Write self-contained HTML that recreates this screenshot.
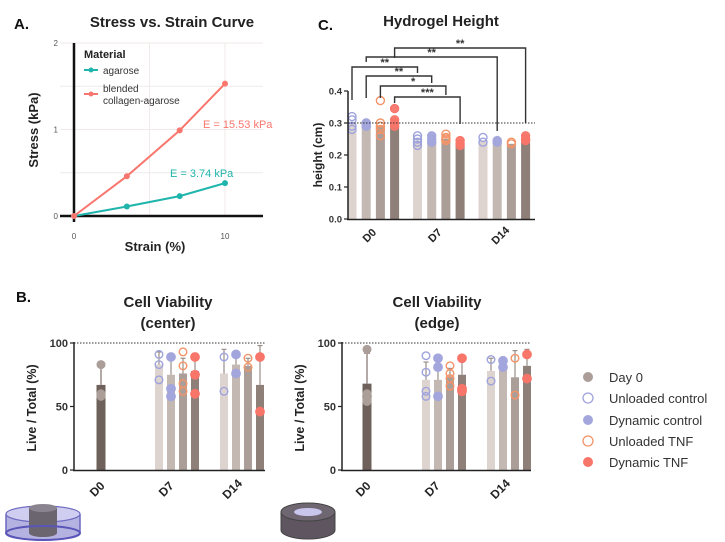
<!DOCTYPE html>
<html><head><meta charset="utf-8"><style>
html,body{margin:0;padding:0;background:#fff;}
svg{display:block;font-family:"Liberation Sans",sans-serif;}
</style></head><body>
<svg id="fig" width="725" height="542" viewBox="0 0 725 542">
  <text x="14" y="29" font-size="15" font-weight="bold" fill="#111">A.</text>
  <text x="172" y="27" font-size="15" font-weight="bold" text-anchor="middle" fill="#222">Stress vs. Strain Curve</text>
  <text x="318" y="30" font-size="15" font-weight="bold" fill="#111">C.</text>
  <text x="441" y="26" font-size="15" font-weight="bold" text-anchor="middle" fill="#222">Hydrogel Height</text>
  <text x="16" y="302" font-size="15" font-weight="bold" fill="#111">B.</text>
  <text x="168" y="307" font-size="15" font-weight="bold" text-anchor="middle" fill="#222">Cell Viability</text>
  <text x="168" y="328" font-size="15" font-weight="bold" text-anchor="middle" fill="#222">(center)</text>
  <text x="437" y="307" font-size="15" font-weight="bold" text-anchor="middle" fill="#222">Cell Viability</text>
  <text x="437" y="328" font-size="15" font-weight="bold" text-anchor="middle" fill="#222">(edge)</text>

  <g id="pa"></g><g id="pc"></g><g id="pb1"></g><g id="pb2"></g>

  <g>
    <path d="M6 514 L6 532 A37 8 0 0 0 80 532 L80 514" fill="#b4b2e0" stroke="#6c68c0" stroke-width="1.5"/>
    <ellipse cx="43" cy="514" rx="37" ry="8" fill="#cfcdf0" stroke="#6c68c0" stroke-width="1.2"/>
    <path d="M29 508 L29 533 A14 4 0 0 0 57 533 L57 508" fill="#6b6570"/>
    <ellipse cx="43" cy="508" rx="14" ry="4" fill="#8a8490"/>
    <ellipse cx="43" cy="533" rx="37" ry="7" fill="none" stroke="#5a55b8" stroke-width="2"/>
  </g>
  <g>
    <path d="M281 512 L281 530 A27 9 0 0 0 335 530 L335 512" fill="#5e5560" stroke="#444" stroke-width="1"/>
    <ellipse cx="308" cy="512" rx="27" ry="9" fill="#6e6670" stroke="#444"/>
    <ellipse cx="308" cy="512" rx="14" ry="4" fill="#c9c6ee"/>
  </g>

  <g>
    <circle cx="588" cy="377" r="5" fill="#ab9d98"/>
    <text x="609" y="382" font-size="13" fill="#333">Day 0</text>
    <circle cx="588" cy="398" r="5" fill="none" stroke="#9fa3dc" stroke-width="1.3"/>
    <text x="609" y="403" font-size="13" fill="#333">Unloaded control</text>
    <circle cx="588" cy="420" r="5" fill="#a3a6dc"/>
    <text x="609" y="425" font-size="13" fill="#333">Dynamic control</text>
    <circle cx="588" cy="441" r="5" fill="none" stroke="#f29468" stroke-width="1.3"/>
    <text x="609" y="446" font-size="13" fill="#333">Unloaded TNF</text>
    <circle cx="588" cy="462" r="5" fill="#f8756a"/>
    <text x="609" y="467" font-size="13" fill="#333">Dynamic TNF</text>
  </g>
</svg>
<script>
const NS="http://www.w3.org/2000/svg";
function mk(parent,tag,attrs,txt){const e=document.createElementNS(NS,tag);for(const k in attrs)e.setAttribute(k,attrs[k]);if(txt!==undefined)e.textContent=txt;parent.appendChild(e);return e;}

const strainX=[0,3.5,7,10];
const agaroseY=[0,0.11,0.23,0.38];
const blendedY=[0,0.46,0.99,1.53];
const aXTicks=[0,10];
const aYTicks=[0,1,2];

const hDays=["D0","D7","D14"];
const hBarMeans=[[0.30,0.295,0.29,0.30],[0.245,0.245,0.25,0.23],[0.245,0.24,0.235,0.24]];
const hUC=[[0.32,0.31,0.29,0.28],[0.26,0.25,0.24,0.23],[0.255,0.24]];
const hDC=[[0.30,0.29,0.30,0.29],[0.26,0.25,0.24],[0.245,0.24]];
const hUT=[[0.37,0.30,0.28,0.26,0.29],[0.265,0.255,0.25,0.245],[0.24,0.235]];
const hDT=[[0.345,0.31,0.30,0.29],[0.245,0.235,0.23],[0.26,0.25,0.245]];
const hYTicks=["0.0","0.1","0.2","0.3","0.4"];
const sigLabels=["**","**","**","**","*","***"];

const vDays=["D0","D7","D14"];
const vCenterDay0=67, vCenterDay0Pts=[83,60,58], vCenterDay0Sd=15;
const vCenterMeans=[[83,75,76,78],[76,83,82,67]];
const vCenterSd=[[10,12,12,14],[19,8,6,31]];
const vCenterUC=[[91,83,71],[89,62]];
const vCenterDC=[[89,64,58],[91,76]];
const vCenterUT=[[93,82,68,62],[88,81]];
const vCenterDT=[[89,75,60],[89,46]];
const vEdgeDay0=68, vEdgeDay0Pts=[95,60,56,54], vEdgeDay0Sd=24;
const vEdgeMeans=[[71,71,73,75],[78,82,73,82]];
const vEdgeSd=[[14,14,7,13],[10,4,21,13]];
const vEdgeUC=[[90,77,62,58],[87,70]];
const vEdgeDC=[[88,81,58],[86,81]];
const vEdgeUT=[[82,76,72,66],[88,59]];
const vEdgeDT=[[88,64,62],[91,72]];
const vYTicks=[0,50,100];

const barCols=["#ddd3cf","#c4b8b2","#ab9d97","#8e7f79"];
const cUC="#9fa3dc",cDC="#a3a6dc",cUT="#f29468",cDT="#f8756a";

(function(){
  const g=document.getElementById('pa');
  const sx=v=>74+v*15.1, sy=v=>216-v*86.5;
  for(const t of [0.5,1,1.5,2]){const l=mk(g,'line',{x1:60,x2:263,y1:sy(t),y2:sy(t),stroke:'#f0eaea','stroke-width':1});
    
    }
  for(const t of [5,10]){const l=mk(g,'line',{x1:sx(t),x2:sx(t),y1:43,y2:216,stroke:'#f0eaea','stroke-width':1});
    
    }
  let ax=mk(g,'line',{x1:74,x2:74,y1:43,y2:222,stroke:'#111','stroke-width':2.5});
  
  
  ax=mk(g,'line',{x1:60,x2:263,y1:216,y2:216,stroke:'#111','stroke-width':2.5});
  
  
  aYTicks.forEach(t=>{const e=mk(g,'text',{x:58,y:sy(t)+3,'font-size':8,'text-anchor':'end',fill:'#555'},String(t));
    
    });
  aXTicks.forEach(t=>{const e=mk(g,'text',{x:sx(t),y:239,'font-size':8,'text-anchor':'middle',fill:'#555'},String(t));
    
    });
  let t=mk(g,'text',{x:0,y:0,'font-size':13,'font-weight':'bold','text-anchor':'middle',fill:'#222',transform:'translate(38,130) rotate(-90)'},'Stress (kPa)');
  
  
  t=mk(g,'text',{x:155,y:251,'font-size':13,'font-weight':'bold','text-anchor':'middle',fill:'#222'},'Strain (%)');
  
  
  function series(ys,col,name){
    const p=mk(g,'polyline',{points:strainX.map((x,i)=>sx(x)+','+sy(ys[i])).join(' '),fill:'none',stroke:col,'stroke-width':2});
    
    
    strainX.forEach((x,i)=>{const c=mk(g,'circle',{cx:sx(x),cy:sy(ys[i]),r:3,fill:col});
      
      });
  }
  series(agaroseY,'#1fb5ad','agarose');
  series(blendedY,'#f8766d','blended');
  t=mk(g,'text',{x:203,y:128,'font-size':11,fill:'#f8766d'},'E = 15.53 kPa');
  
  
  t=mk(g,'text',{x:170,y:177,'font-size':11,fill:'#1fb5ad'},'E = 3.74 kPa');
  
  
  t=mk(g,'text',{x:84,y:58,'font-size':11,'font-weight':'bold',fill:'#222'},'Material');
  
  
  mk(g,'line',{x1:84,x2:98,y1:70,y2:70,stroke:'#1fb5ad','stroke-width':2});
  mk(g,'circle',{cx:91,cy:70,r:2.5,fill:'#1fb5ad'});
  t=mk(g,'text',{x:103,y:74,'font-size':10,fill:'#333'},'agarose');
  
  
  mk(g,'line',{x1:84,x2:98,y1:94,y2:94,stroke:'#f8766d','stroke-width':2});
  mk(g,'circle',{cx:91,cy:94,r:2.5,fill:'#f8766d'});
  t=mk(g,'text',{x:103,y:92,'font-size':10,fill:'#333'},'blended');
  
  
  t=mk(g,'text',{x:103,y:104,'font-size':10,fill:'#333'},'collagen-agarose');
  
  
})();

(function(){
  const g=document.getElementById('pc');
  const sy=v=>219-v*320;
  const groupX=[352,417.5,483];
  const bx=(gi,b)=>groupX[gi]+b*14.2;
  hDays.forEach((d,gi)=>{
    hBarMeans[gi].forEach((m,b)=>{
      const r=mk(g,'rect',{x:bx(gi,b)-4.5,y:sy(m),width:9,height:219-sy(m),fill:barCols[b]});
      
      
    });
    [[hUC,cUC,0,false],[hDC,cDC,1,true],[hUT,cUT,2,false],[hDT,cDT,3,true]].forEach(([arr,col,b,fill])=>{
      arr[gi].forEach(v=>{
        const c=mk(g,'circle',{cx:bx(gi,b),cy:sy(v),r:4,fill:fill?col:'none',stroke:col,'stroke-width':1.4,'fill-opacity':0.95});
        
        
      });
    });
    const t=mk(g,'text',{x:0,y:0,'font-size':11,'font-weight':'bold','text-anchor':'middle',fill:'#222',transform:`translate(${groupX[gi]+20},${238}) rotate(-45)`},d);
    
    
  });
  let l=mk(g,'line',{x1:348,x2:535,y1:sy(0.3),y2:sy(0.3),stroke:'#333','stroke-width':1,'stroke-dasharray':'1.5,1.5'});
  
  
  l=mk(g,'line',{x1:348,x2:348,y1:91,y2:220,stroke:'#222','stroke-width':1.5});
  
  
  l=mk(g,'line',{x1:347,x2:535,y1:219.5,y2:219.5,stroke:'#222','stroke-width':1.5});
  
  
  hYTicks.forEach(tv=>{
    const y=sy(parseFloat(tv));
    mk(g,'line',{x1:344,x2:348,y1:y,y2:y,stroke:'#222','stroke-width':1.2});
    const t=mk(g,'text',{x:342,y:y+3.5,'font-size':9.5,'font-weight':'bold','text-anchor':'end',fill:'#333'},tv);
    
    
  });
  const t=mk(g,'text',{x:0,y:0,'font-size':12,'font-weight':'bold','text-anchor':'middle',fill:'#222',transform:'translate(322,155) rotate(-90)'},'height (cm)');
  
  
  const sig=[[0,3,2,3,48,58,123],[0,1,2,1,57,62,131],[0,0,1,0,67,100,73],[0,1,1,1,76,98,83],[0,2,1,2,86,98,95],[0,3,1,3,97,103,124]];
  sig.forEach((s,i)=>{
    const x1=bx(s[0],s[1]),x2=bx(s[2],s[3]);
    const p=mk(g,'polyline',{points:`${x1},${s[5]} ${x1},${s[4]} ${x2},${s[4]} ${x2},${s[6]}`,fill:'none',stroke:'#333','stroke-width':1.4});
    
    
    const tt=mk(g,'text',{x:(x1+x2)/2,y:s[4]-1,'font-size':11,'font-weight':'bold','text-anchor':'middle',fill:'#333'},sigLabels[i]);
    
    
  });
})();

function viability(id,ax,xEnd,d0x,grpX,day0,day0Pts,day0Sd,means,sds,UC,DC,UT,DT,tickX,prefix){
  const g=document.getElementById(id);
  const sy=v=>470-v*1.27;
  let l=mk(g,'line',{x1:ax,x2:xEnd,y1:sy(100),y2:sy(100),stroke:'#333','stroke-width':1,'stroke-dasharray':'1.5,1.5'});
  
  
  let r=mk(g,'rect',{x:d0x-4.5,y:sy(day0),width:9,height:470-sy(day0),fill:'#6e605b'});
  
  
  mk(g,'line',{x1:d0x,x2:d0x,y1:sy(day0),y2:sy(day0+day0Sd),stroke:'#8a7d78','stroke-width':1.3});
  mk(g,'line',{x1:d0x-3,x2:d0x+3,y1:sy(day0+day0Sd),y2:sy(day0+day0Sd),stroke:'#8a7d78','stroke-width':1.3});
  day0Pts.forEach(v=>{const c=mk(g,'circle',{cx:d0x,cy:sy(v),r:4.5,fill:'#ab9d98'});
    
    });
  grpX.forEach((gx,gi)=>{
    means[gi].forEach((m,b)=>{
      const x=gx+b*12;
      const rr=mk(g,'rect',{x:x-4,y:sy(m),width:8,height:470-sy(m),fill:barCols[b]});
      
      
      const top=Math.min(100,m+sds[gi][b]);
      mk(g,'line',{x1:x,x2:x,y1:sy(m),y2:sy(top),stroke:'#9a8e89','stroke-width':1.2});
      mk(g,'line',{x1:x-2.5,x2:x+2.5,y1:sy(top),y2:sy(top),stroke:'#9a8e89','stroke-width':1.2});
    });
    [[UC,cUC,0,false],[DC,cDC,1,true],[UT,cUT,2,false],[DT,cDT,3,true]].forEach(([arr,col,b,fill])=>{
      arr[gi].forEach(v=>{
        const c=mk(g,'circle',{cx:gx+b*12,cy:sy(v),r:fill?4.2:3.8,fill:fill?col:'none',stroke:col,'stroke-width':1.4});
        
        
      });
    });
  });
  l=mk(g,'line',{x1:ax,x2:ax,y1:342,y2:471,stroke:'#222','stroke-width':1.5});
  
  
  l=mk(g,'line',{x1:ax-1,x2:xEnd,y1:470.5,y2:470.5,stroke:'#222','stroke-width':1.5});
  
  
  vYTicks.forEach(tv=>{
    const y=sy(tv);
    mk(g,'line',{x1:ax-4,x2:ax,y1:y,y2:y,stroke:'#222','stroke-width':1.2});
    const t=mk(g,'text',{x:ax-6,y:y+4,'font-size':11,'font-weight':'bold','text-anchor':'end',fill:'#333'},String(tv));
    
    
  });
  vDays.forEach((d,i)=>{
    const t=mk(g,'text',{x:0,y:0,'font-size':12,'font-weight':'bold','text-anchor':'middle',fill:'#222',transform:`translate(${tickX[i]},${492}) rotate(-45)`},d);
    
    
  });
  const t=mk(g,'text',{x:0,y:0,'font-size':12.5,'font-weight':'bold','text-anchor':'middle',fill:'#222',transform:`translate(${ax-38},408) rotate(-90)`},'Live / Total (%)');
  
  
}
viability('pb1',74,265,101,[159,224],vCenterDay0,vCenterDay0Pts,vCenterDay0Sd,vCenterMeans,vCenterSd,vCenterUC,vCenterDC,vCenterUT,vCenterDT,[100,169,235],'center');
viability('pb2',342,531,367,[426,491],vEdgeDay0,vEdgeDay0Pts,vEdgeDay0Sd,vEdgeMeans,vEdgeSd,vEdgeUC,vEdgeDC,vEdgeUT,vEdgeDT,[366,435,503],'edge');
</script>
</body></html>
